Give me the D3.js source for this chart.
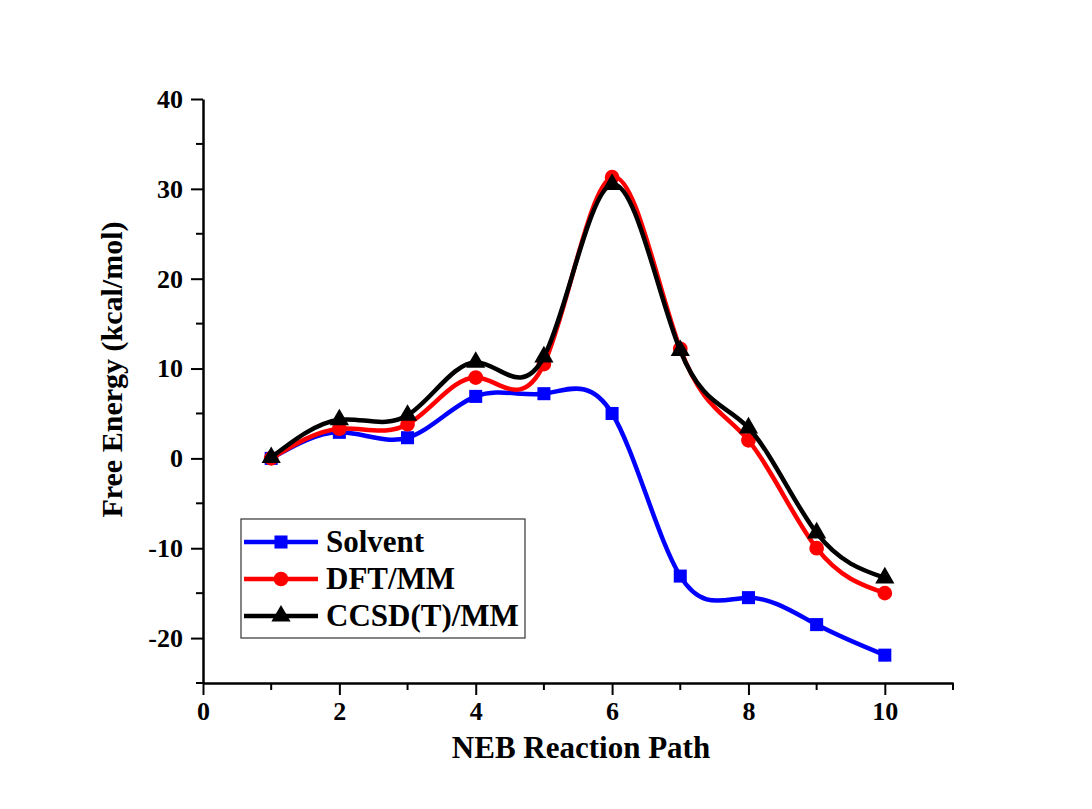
<!DOCTYPE html>
<html>
<head>
<meta charset="utf-8">
<script src="https://cdn.jsdelivr.net/npm/d3@7"></script>
<style>
  body { margin: 0; background: #fff; }
  text { font-family: "Liberation Serif", "Times New Roman", serif; font-weight: bold; }
</style>
</head>
<body>
<div id="chart-area"></div>
<script>
const MARGIN = { LEFT: 203, RIGHT: 139, TOP: 99, BOTTOM: 126 }
const WIDTH = 1092 - MARGIN.LEFT - MARGIN.RIGHT
const HEIGHT = 809 - MARGIN.TOP - MARGIN.BOTTOM

// data
const steps = [1, 2, 3, 4, 5, 6, 7, 8, 9, 10]
const solvent = [0, 2.9, 2.3, 6.9, 7.2, 5.0, -13.1, -15.5, -18.5, -21.9]
const dftmm = [0, 3.3, 3.8, 9.0, 10.5, 31.3, 12.2, 2.0, -10.0, -15.0]
const ccsdmm = [0.1, 4.3, 4.8, 10.7, 11.3, 30.5, 12.0, 3.4, -8.3, -13.3]

const seriesNames = ["Solvent", "DFT/MM", "CCSD(T)/MM"]
const seriesColors = ["#0000ff", "#ff0000", "#000000"]
const seriesMarkers = ["square", "circle", "triangle"]
const xTicks = [0, 2, 4, 6, 8, 10]
const yTicks = [-20, -10, 0, 10, 20, 30, 40]

const series = [solvent, dftmm, ccsdmm].map((vals, i) => ({
  name: seriesNames[i],
  color: seriesColors[i],
  marker: seriesMarkers[i],
  points: steps.map((s, j) => ({ x: s, y: vals[j] }))
}))

const svg = d3.select("#chart-area").append("svg")
  .attr("width", 1092)
  .attr("height", 809)

svg.append("rect").attr("width", 1092).attr("height", 809).attr("fill", "#fff")

const g = svg.append("g")
  .attr("transform", `translate(${MARGIN.LEFT}, ${MARGIN.TOP})`)

const x = d3.scaleLinear().domain([0, 11]).range([0, WIDTH])
const y = d3.scaleLinear().domain([-25, 40]).range([HEIGHT, 0])

// minor ticks
const xMinor = d3.range(1, 12, 2)
const yMinor = d3.range(-25, 40, 10)

g.append("g")
  .attr("transform", `translate(0, ${HEIGHT})`)
  .selectAll("line").data(xMinor).enter().append("line")
  .attr("x1", d => x(d)).attr("x2", d => x(d))
  .attr("y1", 0).attr("y2", 7)
  .attr("stroke", "#000").attr("stroke-width", 2)

g.append("g")
  .selectAll("line").data(yMinor).enter().append("line")
  .attr("y1", d => y(d)).attr("y2", d => y(d))
  .attr("x1", 0).attr("x2", -7)
  .attr("stroke", "#000").attr("stroke-width", 2)

// axes
const fmt = d => String(d)   // plain hyphen minus like the original

const xAxisGroup = g.append("g")
  .attr("transform", `translate(0, ${HEIGHT})`)
  .call(d3.axisBottom(x).tickValues(xTicks).tickFormat(fmt).tickSize(12).tickSizeOuter(0).tickPadding(7))

const yAxisGroup = g.append("g")
  .call(d3.axisLeft(y).tickValues(yTicks).tickFormat(fmt).tickSize(12).tickSizeOuter(0).tickPadding(8))

;[xAxisGroup, yAxisGroup].forEach(ax => {
  ax.select(".domain").attr("stroke", "#000").attr("stroke-width", 2.5)
  ax.selectAll(".tick line").attr("stroke", "#000").attr("stroke-width", 2)
  ax.selectAll("text")
    .attr("fill", "#000")
    .style("font-family", '"Liberation Serif", serif')
    .style("font-weight", "bold")
    .style("font-size", "26px")
})

// axis labels
g.append("text")
  .attr("x", WIDTH / 2 + 3)
  .attr("y", HEIGHT + 75)
  .attr("font-size", "31px")
  .attr("text-anchor", "middle")
  .text("NEB Reaction Path")

g.append("text")
  .attr("x", -(y(10) + 1))
  .attr("y", -81)
  .attr("font-size", "30px")
  .attr("text-anchor", "middle")
  .attr("transform", "rotate(-90)")
  .text("Free Energy (kcal/mol)")

// lines
const line = d3.line()
  .x(d => x(d.x))
  .y(d => y(d.y))
  .curve(d3.curveNatural)

const markerPath = {
  square: d3.symbol().type(d3.symbolSquare).size(170),
  circle: d3.symbol().type(d3.symbolCircle).size(170),
  triangle: d3.symbol().type(d3.symbolTriangle).size(160)
}

series.forEach(s => {
  const sg = g.append("g")
  sg.append("path")
    .attr("d", line(s.points))
    .attr("fill", "none")
    .attr("stroke", s.color)
    .attr("stroke-width", 4.5)

  sg.selectAll("path.mk").data(s.points).enter().append("path")
    .attr("class", "mk")
    .attr("d", markerPath[s.marker]())
    .attr("transform", d => `translate(${x(d.x)}, ${y(d.y)})`)
    .attr("fill", s.color)
})

// legend
const legend = svg.append("g").attr("transform", "translate(241, 519)")
legend.append("rect")
  .attr("width", 284).attr("height", 119)
  .attr("fill", "#fff").attr("stroke", "#333").attr("stroke-width", 1.2)

series.forEach((s, i) => {
  const ly = 23 + i * 37
  legend.append("line")
    .attr("x1", 3).attr("x2", 77).attr("y1", ly).attr("y2", ly)
    .attr("stroke", s.color).attr("stroke-width", 4.5)
  legend.append("path")
    .attr("d", markerPath[s.marker]())
    .attr("transform", `translate(40, ${ly})`)
    .attr("fill", s.color)
  legend.append("text")
    .attr("x", 85).attr("y", ly + 10)
    .attr("font-size", "31px")
    .text(s.name)
})
</script>
</body>
</html>
